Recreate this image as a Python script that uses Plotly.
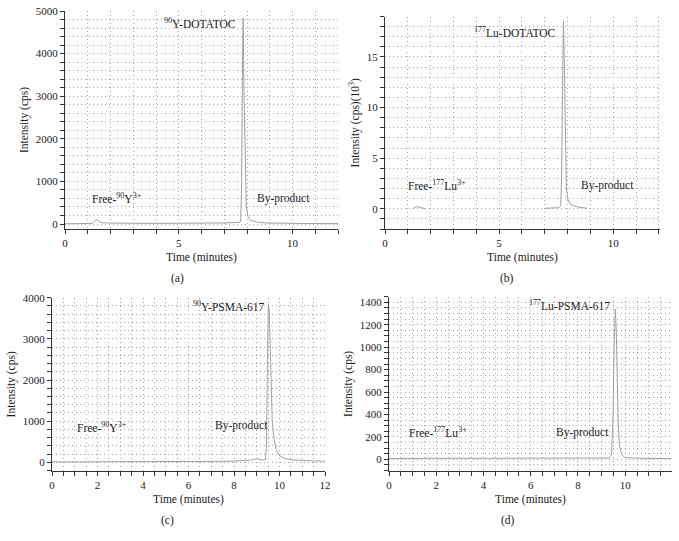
import plotly.graph_objects as go

# ---- data ----
# (a) 90Y-DOTATOC
t_a = [0, 0.5, 1.0, 1.2, 1.3, 1.38, 1.45, 1.55, 1.7, 2.0, 3, 4, 5, 6, 7, 7.5, 7.65, 7.72,
       7.76, 7.8, 7.83, 7.87, 7.92, 7.97, 8.04, 8.15, 8.3, 8.5, 8.8, 9.5, 10.5, 11.5, 12]
i_a = [5, 5, 8, 15, 60, 110, 80, 35, 25, 20, 18, 15, 15, 18, 25, 35, 40, 60,
       800, 3500, 4830, 3000, 1200, 450, 170, 90, 65, 40, 25, 15, 12, 10, 10]

# (b) 177Lu-DOTATOC (x10^3 cps)
t_b = [1.2, 1.3, 1.4, 1.5, 1.6, 1.75, None, 7.02, 7.3, 7.6, 7.7, 7.74, 7.78, 7.82,
       7.86, 7.9, 7.95, 8.0, 8.1, 8.25, 8.5, 8.85]
i_b = [0.0, 0.1, 0.2, 0.18, 0.1, 0.0, None, 0.05, 0.08, 0.1, 0.3, 3, 12, 18.5,
       14, 6, 2, 1.0, 0.5, 0.3, 0.15, 0.05]

# (c) 90Y-PSMA-617
t_c = [0, 1, 2, 3, 4, 5, 6, 7, 7.5, 8, 8.5, 8.8, 9.0, 9.1, 9.25, 9.38, 9.43, 9.47,
       9.51, 9.55, 9.6, 9.64, 9.68, 9.75, 9.85, 10.0, 10.2, 10.5, 11, 11.5, 12]
i_c = [10, 10, 12, 12, 12, 12, 15, 15, 25, 30, 40, 60, 90, 70, 55, 70, 400, 2500,
       3850, 3700, 2800, 1500, 1000, 600, 320, 160, 100, 60, 40, 35, 30]

# (d) 177Lu-PSMA-617
t_d = [0, 1, 2, 3, 4, 5, 6, 7, 8, 9, 9.3, 9.42, 9.48, 9.53, 9.58, 9.62, 9.66, 9.7,
       9.76, 9.85, 10.0, 10.5, 11, 11.95]
i_d = [8, 8, 8, 8, 8, 8, 8, 8, 8, 10, 12, 40, 350, 1000, 1340, 1150, 700, 350,
       120, 40, 15, 10, 8, 8]

panel_labels = ["(a)", "(b)", "(c)", "(d)"]
x_title = "Time (minutes)"
y_titles = ["Intensity (cps)", "Intensity (cps)(10<sup>3</sup>)", "Intensity (cps)", "Intensity (cps)"]

# ---- styling ----
W, H = 679, 541
FONT = "Liberation Serif"
TXT = "#1a1a1a"
AX = "#333333"
GRID = "#a8a8a8"
TRACE = "#a0a0a0"
FS = 11.5


def px_x(p):
    return p / W


def px_y(p):
    return 1 - p / H


def common(rng, dtick, mdtick, anchor, title):
    return dict(range=rng, anchor=anchor, automargin=False,
                showline=True, linecolor=AX, linewidth=1, ticks="outside", ticklen=4,
                tickcolor=AX, tick0=0, dtick=dtick, showgrid=True, gridcolor=GRID,
                griddash="1px,3px", gridwidth=1, zeroline=False,
                minor=dict(tick0=0, dtick=mdtick, ticks="outside", ticklen=4, tickcolor=AX,
                           showgrid=True, gridcolor=GRID, griddash="1px,3px", gridwidth=1),
                tickfont=dict(family=FONT, size=11, color=TXT),
                title=dict(text=title, font=dict(family=FONT, size=FS, color=TXT), standoff=4))


def xaxis(dom, rng, dtick, mdtick, anchor):
    d = common(rng, dtick, mdtick, anchor, x_title)
    d["domain"] = [px_x(dom[0]), px_x(dom[1])]
    return d


def yaxis(dom, rng, dtick, mdtick, anchor, title):
    d = common(rng, dtick, mdtick, anchor, title)
    d["domain"] = [px_y(dom[1]), px_y(dom[0])]
    return d


fig = go.Figure()
for t, v, xa, ya in [(t_a, i_a, "x", "y"), (t_b, i_b, "x2", "y2"),
                     (t_c, i_c, "x3", "y3"), (t_d, i_d, "x4", "y4")]:
    fig.add_trace(go.Scatter(x=t, y=v, xaxis=xa, yaxis=ya, mode="lines",
                             line=dict(color=TRACE, width=1), connectgaps=False,
                             showlegend=False, hoverinfo="skip"))

fig.update_layout(
    width=W, height=H, margin=dict(l=0, r=0, t=0, b=0, pad=0), autosize=False,
    paper_bgcolor="white", plot_bgcolor="white", showlegend=False,
    xaxis=xaxis((65, 338), [0, 12], 5, 1, "y"),
    yaxis=yaxis((11, 229), [-117, 5000], 1000, 200, "x", y_titles[0]),
    xaxis2=xaxis((385, 660), [0, 12.05], 5, 1, "y2"),
    yaxis2=yaxis((16.5, 229), [-2, 19], 5, 1, "x2", y_titles[1]),
    xaxis3=xaxis((52, 325), [0, 12], 2, 0.5, "y3"),
    yaxis3=yaxis((297.7, 471), [-210, 4000], 1000, 200, "x3", y_titles[2]),
    xaxis4=xaxis((389, 672), [0, 11.98], 2, 0.5, "y4"),
    yaxis4=yaxis((296.7, 471), [-104, 1450], 200, 50, "x4", y_titles[3]),
)

ann_font = dict(family=FONT, size=FS, color=TXT)
anns = [
    ("x", "y", 7.59, 4718, "right", "<sup>90</sup>Y-DOTATOC"),
    ("x", "y", 1.1, 610, "left", "Free-<sup>90</sup>Y<sup>3+</sup>"),
    ("x", "y", 8.33, 610, "left", "By-product"),
    ("x2", "y2", 7.60, 17.5, "right", "<sup>177</sup>Lu-DOTATOC"),
    ("x2", "y2", 0.92, 2.37, "left", "Free-<sup>177</sup>Lu<sup>3+</sup>"),
    ("x2", "y2", 8.51, 2.3, "left", "By-product"),
    ("x3", "y3", 9.44, 3801, "right", "<sup>90</sup>Y-PSMA-617"),
    ("x3", "y3", 1.01, 850, "left", "Free-<sup>90</sup>Y<sup>3+</sup>"),
    ("x3", "y3", 7.09, 888, "left", "By-product"),
    ("x4", "y4", 9.44, 1378, "right", "<sup>177</sup>Lu-PSMA-617"),
    ("x4", "y4", 0.78, 241, "left", "Free-<sup>177</sup>Lu<sup>3+</sup>"),
    ("x4", "y4", 6.99, 241, "left", "By-product"),
]
for xr, yr, x, y, xa, txt in anns:
    fig.add_annotation(x=x, y=y, xref=xr, yref=yr, text=txt, showarrow=False,
                       xanchor=xa, yanchor="middle", font=ann_font)

for lbl, (px, py) in zip(panel_labels, [(177, 278), (507, 278), (167, 520), (508, 520)]):
    fig.add_annotation(x=px_x(px), y=px_y(py), xref="paper", yref="paper", text=lbl,
                       showarrow=False, xanchor="center", yanchor="middle", font=ann_font)

fig.write_html("out.html", config={"displayModeBar": False},
               post_script="document.body.style.margin='0px';")
